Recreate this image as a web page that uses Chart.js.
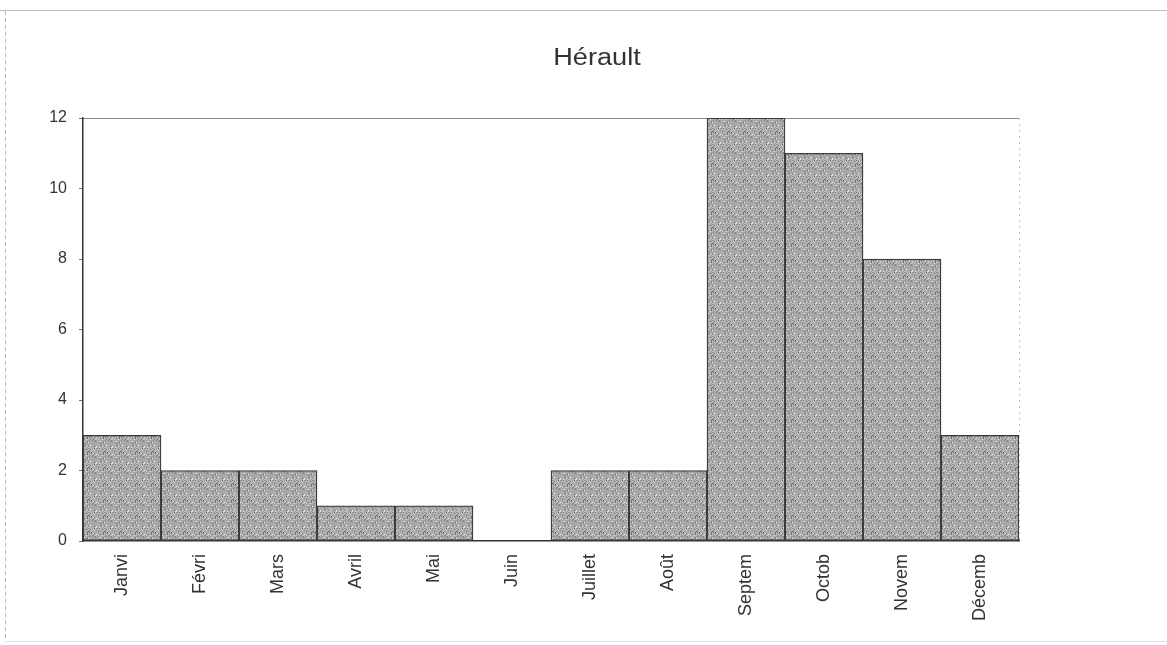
<!DOCTYPE html>
<html><head><meta charset="utf-8">
<script src="https://cdn.jsdelivr.net/npm/chart.js@4/dist/chart.umd.min.js"></script>
<style>html,body{margin:0;padding:0;background:#fff}#wrap{width:1167px;height:645px}</style>
</head><body><div id="wrap"><canvas id="c" width="1167" height="645"></canvas></div>
<script>
const categories = ["Janvi","Févri","Mars","Avril","Mai","Juin","Juillet","Août","Septem","Octob","Novem","Décemb"];
const values = [3,2,2,1,1,0,2,2,12,11,8,3];
const yTicks = [0,2,4,6,8,10,12];
const titleText = "Hérault";

function makeStipple(ctx){
  const p = document.createElement('canvas'); p.width = 16; p.height = 16;
  const g = p.getContext('2d');
  g.fillStyle = '#ababab'; g.fillRect(0,0,16,16);
  const shades = ['#6f6f6f','#d6d6d6','#8c8c8c','#c4c4c4','#7f7f7f','#e4e4e4'];
  let s = 7;
  for (let y=0;y<16;y++) for (let x=0;x<16;x++){
    s = (s*1103515245 + 12345) & 0x7fffffff;
    if ((s>>8)%3===0){ g.fillStyle = shades[(s>>12)%shades.length]; g.fillRect(x,y,1,1); }
  }
  return ctx.createPattern(p,'repeat');
}

const frame = {
  id:'frame',
  beforeDraw(chart){
    const ctx = chart.ctx; ctx.save();
    ctx.strokeStyle = '#bdbdbd'; ctx.lineWidth = 1;
    ctx.beginPath(); ctx.moveTo(0,10.5); ctx.lineTo(1167,10.5); ctx.stroke();
    ctx.setLineDash([4,3]);
    ctx.beginPath(); ctx.moveTo(5.5,11); ctx.lineTo(5.5,642); ctx.stroke();
    ctx.setLineDash([]);
    ctx.strokeStyle='#e0e0e0';
    ctx.beginPath(); ctx.moveTo(5,641.5); ctx.lineTo(1167,641.5); ctx.stroke();
    const a = chart.chartArea;
    ctx.strokeStyle = '#8a8a8a';
    ctx.beginPath(); ctx.moveTo(a.left, a.top+0.5); ctx.lineTo(a.right, a.top+0.5); ctx.stroke();
    ctx.strokeStyle = '#c4c4c4'; ctx.setLineDash([2,4]);
    ctx.beginPath(); ctx.moveTo(a.right+0.5, a.top); ctx.lineTo(a.right+0.5, a.bottom); ctx.stroke();
    ctx.setLineDash([]);
    ctx.fillStyle = '#333'; ctx.font = '23px "Liberation Sans", Arial, sans-serif';
    ctx.textAlign = 'center'; ctx.textBaseline = 'middle';
    ctx.translate(597, 59); ctx.scale(1.18, 1);
    ctx.fillText(titleText, 0, 0);
    ctx.restore();
  }
};

const ctx = document.getElementById('c').getContext('2d');
new Chart(ctx, {
  type:'bar',
  data:{ labels: categories, datasets:[{ data: values, backgroundColor: makeStipple(ctx), borderColor:'#3a3a3a', borderWidth:1.3, borderSkipped:false, barPercentage:1, categoryPercentage:1 }]},
  options:{
    responsive:false, animation:false,
    layout:{ padding:{ left:30, right:148, top:118, bottom:20 } },
    plugins:{ legend:{display:false}, title:{display:false}, tooltip:{enabled:false} },
    scales:{
      x:{
        grid:{ display:false },
        border:{ display:true, color:'#333', width:1.5 },
        ticks:{ minRotation:90, maxRotation:90, color:'#333', font:{ family:'"Liberation Sans", Arial, sans-serif', size:18 }, padding:5 },
        afterFit(s){ s.height = 84; }
      },
      y:{
        min:0, max:12,
        afterBuildTicks(s){ s.ticks = yTicks.map(v=>({value:v})); },
        grid:{ display:true, drawOnChartArea:false, tickLength:4, color:'#777' },
        border:{ display:true, color:'#333', width:1.5 },
        ticks:{ color:'#333', font:{ family:'"Liberation Sans", Arial, sans-serif', size:16 }, padding:12 },
        afterFit(s){ s.width = 53; }
      }
    }
  },
  plugins:[frame]
});
</script></body></html>
